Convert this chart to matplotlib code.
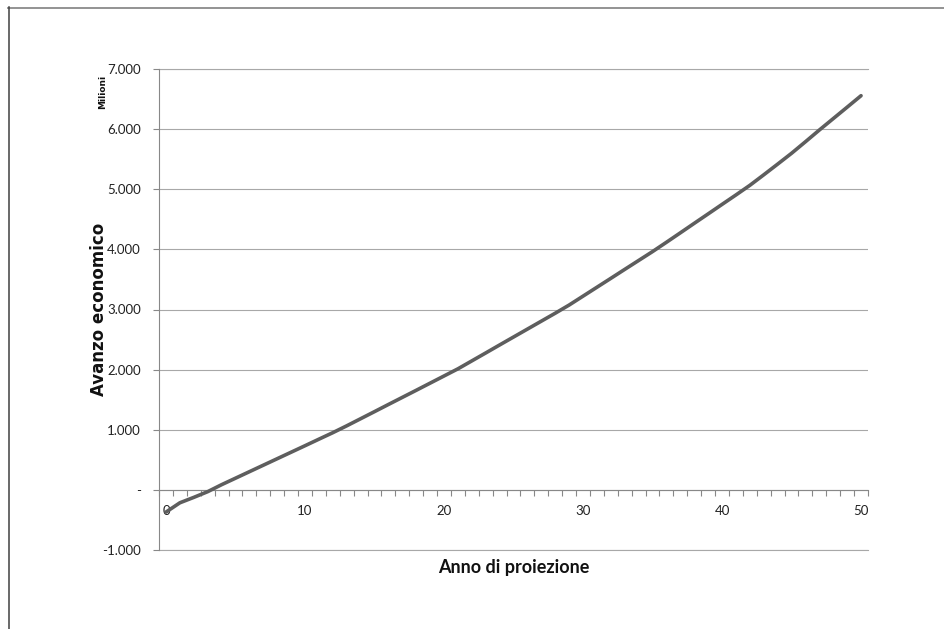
import matplotlib
matplotlib.use("Agg")
import matplotlib.pyplot as plt
from matplotlib.lines import Line2D
from matplotlib.ticker import FixedLocator, FuncFormatter

# Economic surplus projection (millions), one value per projection year
anni = list(range(0, 51))
avanzo = [
    -370, -215, -125, -30, 86, 194, 302, 410, 518, 626,
    734, 843, 951, 1065, 1183, 1301, 1420, 1538, 1656, 1775,
    1894, 2013, 2145, 2277, 2410, 2542, 2674, 2806, 2938, 3074,
    3222, 3370, 3518, 3667, 3815, 3963, 4118, 4275, 4433, 4590,
    4748, 4905, 5065, 5240, 5418, 5598, 5790, 5985, 6175, 6365,
    6556,
]
y_ticks = [-1000, 0, 1000, 2000, 3000, 4000, 5000, 6000, 7000]
x_labels = [0, 10, 20, 30, 40, 50]

tick_font = "Lato"
grid_color = "#a8a8a8"

fig = plt.figure(figsize=(9.44, 6.29), dpi=100)
ax = fig.add_axes([159 / 944, 1 - 550 / 629, (868 - 159) / 944, (550 - 69) / 629])

ax.plot(anni, avanzo, color="#5e5e5e", linewidth=2.6, solid_capstyle="round",
        solid_joinstyle="round", zorder=3)

ax.set_xlim(-0.5, 50.5)
ax.set_ylim(y_ticks[0], y_ticks[-1])

# horizontal gridlines
ax.yaxis.set_major_locator(FixedLocator(y_ticks))
ax.grid(axis="y", color=grid_color, linewidth=0.8)
ax.set_axisbelow(True)
for v in (y_ticks[0], y_ticks[-1]):
    ax.axhline(v, color=grid_color, linewidth=0.8, clip_on=False, zorder=0.5)


def fmt_y(v, pos):
    if v == 0:
        return "-"
    s = f"{abs(int(v)):,}".replace(",", ".")
    return ("-" if v < 0 else "") + s


ax.yaxis.set_major_formatter(FuncFormatter(fmt_y))
ax.tick_params(axis="y", which="major", length=4, width=0.8, color="#888888",
               pad=9, labelsize=9.5, labelcolor="#222222")

# category axis: ticks between years, labels every 10 years
ax.spines["bottom"].set_position(("data", 0))
ax.xaxis.set_minor_locator(FixedLocator([i - 0.5 for i in range(0, 52)]))
ax.xaxis.set_major_locator(FixedLocator(x_labels))
ax.tick_params(axis="x", which="minor", length=4, width=0.8, color="#888888",
               direction="out")
ax.tick_params(axis="x", which="major", length=0, pad=11, labelsize=9.5,
               labelcolor="#222222")

for side in ("top", "right"):
    ax.spines[side].set_visible(False)
for side in ("left", "bottom"):
    ax.spines[side].set_color("#888888")
    ax.spines[side].set_linewidth(0.8)

for lab in ax.get_xticklabels() + ax.get_yticklabels():
    lab.set_fontfamily(tick_font)

fig.text(99 / 944, 1 - 309 / 629, "Avanzo economico", rotation=90,
         ha="center", va="center", fontsize=12, fontweight="bold",
         family="DejaVu Sans", color="#111111")
fig.text(103 / 944, 1 - 92 / 629, "Milioni", rotation=90,
         ha="center", va="center", fontsize=6.5, fontweight="bold",
         family="DejaVu Sans", color="#111111")
fig.text(514 / 944, 1 - 567 / 629, "Anno di proiezione",
         ha="center", va="center", fontsize=13, fontweight="bold",
         family=tick_font, color="#111111")

# outer chart frame
fig.add_artist(Line2D([8 / 944, 1.0], [1 - 7.5 / 629, 1 - 7.5 / 629],
                      transform=fig.transFigure, color="#8a8a8a", linewidth=1.3))
fig.add_artist(Line2D([8.5 / 944, 8.5 / 944], [0.0, 1 - 7 / 629],
                      transform=fig.transFigure, color="#404040", linewidth=1.1))

fig.savefig("out.png", dpi=100)
